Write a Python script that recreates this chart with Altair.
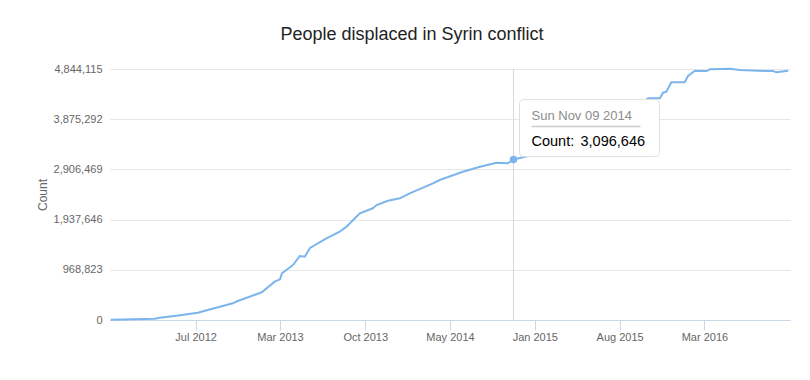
import altair as alt
import pandas as pd

# ---- data ----
dates = [
    "2011-12-16", "2012-04-10", "2012-04-23", "2012-06-10", "2012-08-01", "2012-08-27",
    "2012-11-01", "2012-11-14", "2013-01-16", "2013-02-19", "2013-03-05",
    "2013-03-10", "2013-04-08", "2013-04-26", "2013-05-09", "2013-05-23",
    "2013-07-05", "2013-08-09", "2013-08-27", "2013-09-18", "2013-10-01",
    "2013-11-04", "2013-11-14", "2013-12-14", "2014-01-14", "2014-02-09",
    "2014-04-11", "2014-04-29", "2014-06-29", "2014-08-13", "2014-09-25",
    "2014-10-25", "2014-11-09", "2014-11-26", "2015-01-04", "2015-03-15",
    "2015-06-15", "2015-08-20", "2015-10-20", "2015-10-29", "2015-11-29",
    "2015-12-07", "2015-12-16", "2015-12-29", "2016-02-02", "2016-02-11",
    "2016-02-29", "2016-03-31", "2016-04-08", "2016-05-31", "2016-06-26",
    "2016-09-04", "2016-09-21", "2016-10-01", "2016-10-31",
]
counts = [
    5000, 25000, 44000, 85000, 141000, 193000,
    322000, 367000, 535000, 739000, 785000,
    901000, 1061000, 1235000, 1222000, 1390000,
    1577000, 1704000, 1801000, 1963000, 2059000,
    2156000, 2219000, 2302000, 2349000, 2445000,
    2638000, 2702000, 2862000, 2959000, 3036000,
    3024000, 3096646, 3126000, 3200000, 3420000,
    3800000, 4050000, 4230000, 4279000, 4279000,
    4387000, 4406000, 4587000, 4587000, 4709000,
    4811000, 4805000, 4838000, 4850000, 4825000,
    4805000, 4805000, 4780000, 4811000,
]

hover_date = ["2014-11-09"]
hover_count = [3096646]
hover_label = ["Count:"]

y_ticks = [0, 968823, 1937646, 2906469, 3875292, 4844115]
x_tick_dates = ["2012-07-26", "2013-03-05", "2013-10-15", "2014-05-26",
                "2015-01-04", "2015-08-15", "2016-03-25"]
x_domain = ["2011-12-14", "2016-11-05"]

FONT = "Liberation Sans"
LINE = "#7cb5ec"


def dt(s):
    y, m, d = (int(p) for p in s.split("-"))
    return alt.DateTime(year=y, month=m, date=d, utc=True)


df = pd.DataFrame({"date": dates, "count": counts})
hv = pd.DataFrame({"date": hover_date, "count": hover_count, "label": hover_label})

x_enc = alt.X(
    "date:T",
    scale=alt.Scale(type="utc", domain=[dt(s) for s in x_domain]),
    axis=alt.Axis(
        values=[dt(s) for s in x_tick_dates],
        format="%b %Y",
        title=None,
        grid=False,
        domainColor="#ccd6eb",
        tickColor="#ccd6eb",
        tickSize=10,
        labelPadding=1,
        labelColor="#666666",
        labelFontSize=11,
        labelFont=FONT,
    ),
)
y_enc = alt.Y(
    "count:Q",
    scale=alt.Scale(domain=[0, 4844115], nice=False, zero=True),
    axis=alt.Axis(
        values=y_ticks,
        format=",d",
        title="Count",
        titleFont=FONT,
        titleFontSize=12,
        titleFontWeight="normal",
        titleColor="#666666",
        titlePadding=4,
        labelColor="#666666",
        labelFontSize=11,
        labelFont=FONT,
        labelPadding=8,
        domain=False,
        ticks=False,
        gridColor="#e6e6e6",
    ),
)

line = alt.Chart(df).mark_line(color=LINE, strokeWidth=2).encode(x=x_enc, y=y_enc)

base_h = alt.Chart(hv)

vrule = base_h.mark_rule(color="#d6d9df", strokeWidth=1).encode(x="date:T")

dot = base_h.mark_circle(size=55, color=LINE, opacity=1).encode(x="date:T", y="count:Q")

box = base_h.mark_rect(
    fill="#ffffff", stroke="#e0e0e0", strokeWidth=1, cornerRadius=4,
    xOffset=6, x2Offset=146, yOffset=-60, y2Offset=-3,
).encode(x="date:T", x2="date:T", y="count:Q", y2="count:Q")

sep = base_h.mark_rule(
    color="#cccccc", strokeWidth=1.5,
    xOffset=18, x2Offset=127, yOffset=-33, y2Offset=-33,
).encode(x="date:T", x2="date:T", y="count:Q", y2="count:Q")

date_txt = base_h.transform_calculate(
    dlabel="utcFormat(toDate(datum.date), '%a %b %d %Y')"
).mark_text(
    align="left", baseline="alphabetic", dx=18, dy=-40,
    font=FONT, fontSize=13, color="#8c8c8c",
).encode(x="date:T", y="count:Q", text="dlabel:N")

lbl_txt = base_h.mark_text(
    align="left", baseline="alphabetic", dx=18, dy=-14,
    font=FONT, fontSize=14.5, color="#000000",
).encode(x="date:T", y="count:Q", text="label:N")

val_txt = base_h.mark_text(
    align="left", baseline="alphabetic", dx=67, dy=-14,
    font=FONT, fontSize=14.5, color="#000000",
).encode(x="date:T", y="count:Q", text=alt.Text("count:Q", format=","))

chart = alt.layer(vrule, line, dot, box, sep, date_txt, lbl_txt, val_txt).properties(
    width=680,
    height=251,
    padding={"left": 102, "top": 61, "right": 12, "bottom": 40},
    autosize=alt.AutoSizeParams(type="none"),
    title=alt.TitleParams(
        "People displaced in Syrin conflict",
        font=FONT, fontSize=18, fontWeight="normal", color="#222222",
        anchor="middle", offset=19, dx=-38,
    ),
).configure_view(stroke=None)

chart.save("out.html", embed_options={"renderer": "svg", "actions": False})
